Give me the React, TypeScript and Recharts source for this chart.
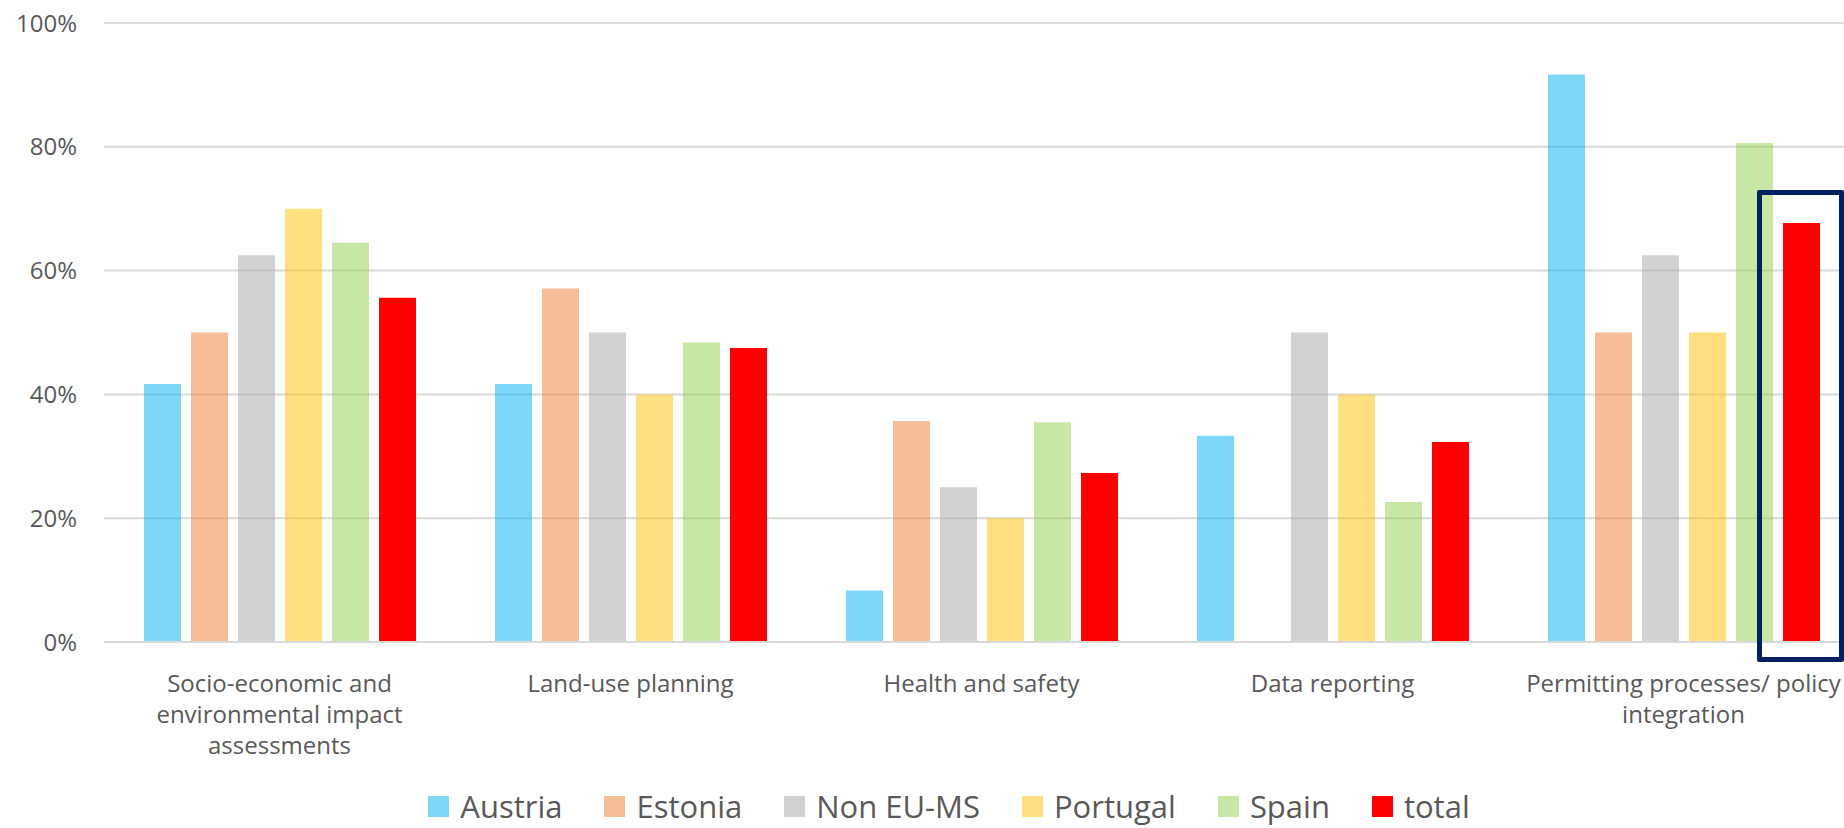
import React from 'react';
import { BarChart, Bar, XAxis, YAxis, CartesianGrid, Legend } from 'recharts';

const categories = [
  'Socio-economic and\nenvironmental impact\nassessments',
  'Land-use planning',
  'Health and safety',
  'Data reporting',
  'Permitting processes/ policy\nintegration',
];

const austria = [41.7, 41.7, 8.3, 33.3, 91.7];
const estonia = [50, 57.1, 35.7, 0, 50];
const nonEuMs = [62.5, 50, 25, 50, 62.5];
const portugal = [70, 40, 20, 40, 50];
const spain = [64.5, 48.4, 35.5, 22.6, 80.6];
const total = [55.6, 47.5, 27.3, 32.3, 67.7];

const yTicks = [0, 20, 40, 60, 80, 100];

const SERIES = [
  { key: 'Austria', values: austria, color: '#00B0F0', opacity: 0.5 },
  { key: 'Estonia', values: estonia, color: '#ED7D31', opacity: 0.5 },
  { key: 'Non EU-MS', values: nonEuMs, color: '#A5A5A5', opacity: 0.5 },
  { key: 'Portugal', values: portugal, color: '#FFC000', opacity: 0.5 },
  { key: 'Spain', values: spain, color: '#92D050', opacity: 0.5 },
  { key: 'total', values: total, color: '#FF0000', opacity: 1 },
];

const FONT = '"Open Sans", sans-serif';
const TEXT = '#595959';

const chartData = categories.map((name, i) => {
  const row: Record<string, any> = { name };
  SERIES.forEach(s => { row[s.key] = s.values[i]; });
  return row;
});

const CategoryTick = ({ x, y, payload }: any) => {
  const lines = String(payload.value).split('\n');
  return (
    <text x={x} y={y} textAnchor="middle" fill={TEXT} fontSize={24} fontFamily={FONT}>
      {lines.map((line, i) => (
        <tspan key={i} x={x} dy={i === 0 ? 50 : 31}>{line}</tspan>
      ))}
    </text>
  );
};

const LegendContent = () => (
  <div style={{ display: 'flex', justifyContent: 'center', gap: 42, paddingTop: 26, paddingLeft: 39, fontFamily: FONT }}>
    {SERIES.map(s => (
      <div key={s.key} style={{ display: 'flex', alignItems: 'center', height: 40 }}>
        <span style={{ width: 21, height: 21, background: s.color, opacity: s.opacity, marginRight: 11, display: 'inline-block' }} />
        <span style={{ fontSize: 31, lineHeight: '40px', color: TEXT }}>{s.key}</span>
      </div>
    ))}
  </div>
);

const App: React.FC = () => {
  return (
    <div style={{ position: 'fixed', left: 0, top: 0, width: 1844, height: 828, overflow: 'hidden', background: '#fff' }}>
      <BarChart
        width={1880}
        height={828}
        data={chartData}
        margin={{ top: 23, right: 21, bottom: 0, left: 0 }}
        barCategoryGap={40}
        barGap={10}
      >
        <CartesianGrid vertical={false} stroke="#d9d9d9" strokeWidth={2} />
        <XAxis
          dataKey="name"
          height={118}
          tick={<CategoryTick />}
          tickLine={false}
          tickSize={0}
          tickMargin={0}
          axisLine={{ stroke: '#d9d9d9', strokeWidth: 2 }}
          interval={0}
        />
        <YAxis
          width={104}
          domain={[0, 100]}
          ticks={yTicks}
          tickFormatter={(v: number) => `${v}%`}
          axisLine={false}
          tickLine={false}
          tickSize={0}
          tickMargin={27}
          tick={{ fill: TEXT, fontSize: 24, fontFamily: FONT }}
        />
        <Legend verticalAlign="bottom" height={68} content={<LegendContent />} />
        {SERIES.map(s => (
          <Bar
            key={s.key}
            dataKey={s.key}
            fill={s.color}
            fillOpacity={s.opacity}
            isAnimationActive={false}
          />
        ))}
      </BarChart>
      <div
        style={{
          position: 'absolute',
          left: 1757,
          top: 190,
          width: 87,
          height: 472,
          border: '5px solid #002060',
          borderRadius: 2,
          boxSizing: 'border-box',
          pointerEvents: 'none',
        }}
      />
    </div>
  );
};

export default App;
